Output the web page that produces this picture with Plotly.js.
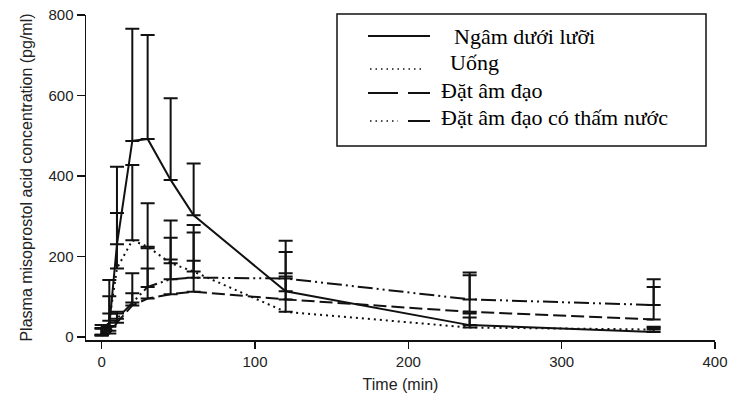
<!DOCTYPE html>
<html>
<head>
<meta charset="utf-8">
<script src="https://cdn.plot.ly/plotly-3.0.1.min.js"></script>
<style>html,body{margin:0;padding:0;background:#fff;}#chart{width:730px;height:396px;}</style>
</head>
<body>
<div id="chart"></div>
<script>
// ---- data ----
const timeMin = [0, 5, 10, 20, 30, 45, 60, 120, 240, 360];

const seriesNames = ["Ngâm dưới lưỡi", "Uống", "Đặt âm đạo", "Đặt âm đạo có thấm nước"];

// Ngâm dưới lưỡi (sublingual) — mean and upper end of error bar
const sublingualMean  = [5, 27, 230, 487, 492, 390, 302, 113, 29, 12];
const sublingualUpper = [22, 141, 423, 766, 750, 593, 431, 239, 58, 25];

// Uống (oral)
const oralMean  = [3, 40, 170, 240, 224, 183, 162, 62, 23, 18];
const oralUpper = [20, 101, 308, 427, 332, 289, 259, 150, 48, 22];

// Đặt âm đạo (vaginal)
const vaginalMean  = [3, 8, 35, 78, 95, 106, 112, 93, 62, 43];
const vaginalUpper = [21, 25, 58, 108, 170, 192, 189, 158, 153, 124];

// Đặt âm đạo có thấm nước (vaginal, moistened)
const wetMean  = [5, 15, 45, 85, 124, 143, 147, 145, 93, 79];
const wetUpper = [29, 58, 62, 158, 220, 246, 278, 211, 160, 143];

const xTicks = [0, 100, 200, 300, 400];
const yTicks = [0, 200, 400, 600, 800];

// ---- build traces ----
function diff(up, mean) { return up.map((u, i) => Math.max(0, u - mean[i])); }
function zeros(n) { return new Array(n).fill(0); }

const INK = "#111";
function trace(name, mean, upper, dash) {
  return {
    type: "scatter", mode: "lines", name: name,
    x: timeMin, y: mean,
    line: {color: INK, width: 2, dash: dash},
    error_y: {type: "data", symmetric: false, array: diff(upper, mean),
              arrayminus: zeros(mean.length), color: INK, thickness: 2, width: 7},
    hoverinfo: "x+y+name"
  };
}

const data = [
  trace(seriesNames[0], sublingualMean, sublingualUpper, "solid"),
  trace(seriesNames[1], oralMean, oralUpper, "2px,4px"),
  trace(seriesNames[2], vaginalMean, vaginalUpper, "13px,5px"),
  trace(seriesNames[3], wetMean, wetUpper, "15px,4px,2px,4px,2px,4px")
];

// ---- layout ----
const M = {l: 86, r: 15, t: 15, b: 56};
const W = 730 - M.l - M.r, H = 396 - M.t - M.b;
const px = x => (x - M.l) / W;
const py = y => (M.t + H - y) / H;

const shapes = [
  {type: "rect", xref: "paper", yref: "paper", x0: px(337), x1: px(706), y0: py(146), y1: py(14),
   line: {color: INK, width: 1.5}, fillcolor: "rgba(0,0,0,0)"},
  {type: "line", xref: "paper", yref: "paper", x0: px(368), x1: px(430), y0: py(36), y1: py(36),
   line: {color: INK, width: 2}},
  {type: "line", xref: "paper", yref: "paper", x0: px(370), x1: px(423), y0: py(69), y1: py(69),
   line: {color: INK, width: 1.5, dash: "1.5px,4px"}},
  {type: "line", xref: "paper", yref: "paper", x0: px(368), x1: px(398), y0: py(93), y1: py(93),
   line: {color: INK, width: 2}},
  {type: "line", xref: "paper", yref: "paper", x0: px(408), x1: px(430), y0: py(93), y1: py(93),
   line: {color: INK, width: 2}},
  {type: "line", xref: "paper", yref: "paper", x0: px(370), x1: px(398), y0: py(121), y1: py(121),
   line: {color: INK, width: 1.5, dash: "1.5px,4px"}},
  {type: "line", xref: "paper", yref: "paper", x0: px(408), x1: px(430), y0: py(121), y1: py(121),
   line: {color: INK, width: 2}}
];

const legFont = {family: "Liberation Serif, Times New Roman, serif", size: 22, color: "#000"};
const legendText = [
  {t: seriesNames[0], x: 452, y: 36.5},
  {t: seriesNames[1], x: 448, y: 63},
  {t: seriesNames[2], x: 439, y: 90.5},
  {t: seriesNames[3], x: 439, y: 117}
];
const annotations = legendText.map(a => ({
  xref: "paper", yref: "paper", x: px(a.x), y: py(a.y), xanchor: "left", yanchor: "middle",
  text: a.t, showarrow: false, font: legFont
}));

const tickFont = {family: "Liberation Sans, Arial, sans-serif", size: 15, color: "#222"};
const titleFont = {family: "Liberation Sans, Arial, sans-serif", size: 16, color: "#222"};

const layout = {
  width: 730, height: 396, margin: M,
  paper_bgcolor: "#fff", plot_bgcolor: "#fff",
  showlegend: false,
  xaxis: {
    range: [-10.2, 400], tickvals: xTicks, ticktext: xTicks.map(String),
    showline: true, linecolor: INK, linewidth: 1.5, mirror: false,
    ticks: "outside", ticklen: 7, tickwidth: 1.5, tickcolor: INK,
    showgrid: false, zeroline: false, tickfont: tickFont,
    title: {text: "Time (min)", font: titleFont, standoff: 10}
  },
  yaxis: {
    range: [-8, 800], tickvals: yTicks, ticktext: yTicks.map(String),
    showline: true, linecolor: INK, linewidth: 1.5, mirror: false,
    ticks: "outside", ticklen: 8, tickwidth: 1.5, tickcolor: INK,
    showgrid: false, zeroline: false, tickfont: tickFont,
    title: {text: "Plasma misoprostol acid concentration (pg/ml)", font: titleFont, standoff: 12}
  },
  shapes: shapes,
  annotations: annotations
};

Plotly.newPlot("chart", data, layout, {staticPlot: true, displayModeBar: false});
</script>
</body>
</html>
